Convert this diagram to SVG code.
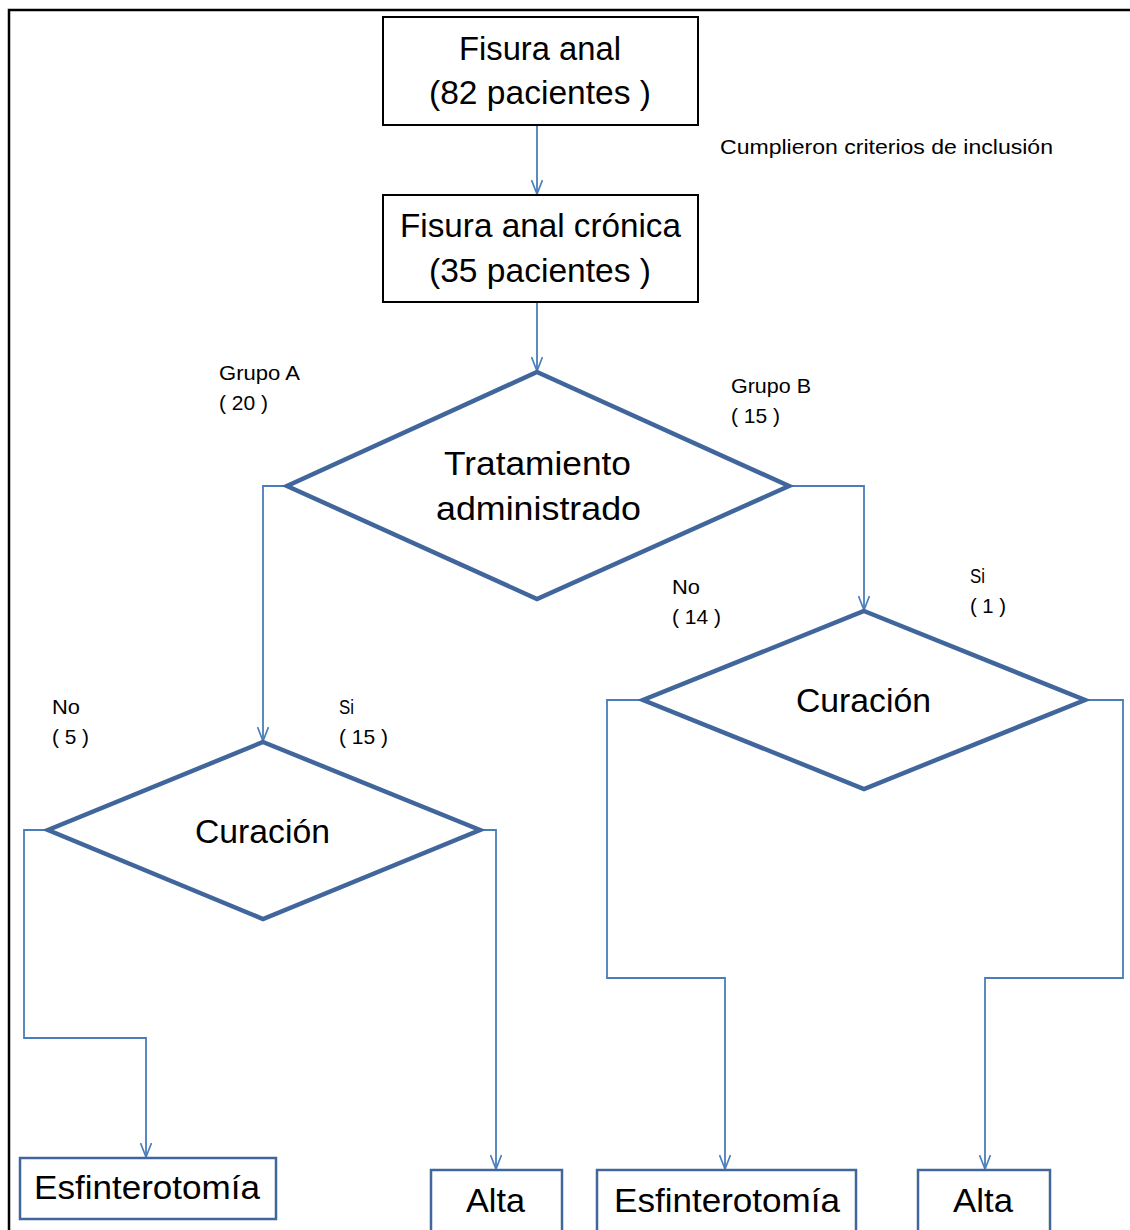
<svg xmlns="http://www.w3.org/2000/svg" width="1130" height="1230" viewBox="0 0 1130 1230">
<style>
.frame{fill:none;stroke:#000;stroke-width:2.5}
.box{fill:#fff;stroke:#000;stroke-width:2}
.bbox{fill:#fff;stroke:#41669b;stroke-width:2.5}
.dia{fill:#fff;stroke:#41669b;stroke-width:4.5;stroke-linejoin:miter}
.con{fill:none;stroke:#4a7ebb;stroke-width:1.8}
.big{font-family:"Liberation Sans",Arial,sans-serif;font-size:33px;fill:#000;text-anchor:middle}
.sm{font-family:"Liberation Sans",Arial,sans-serif;font-size:21px;fill:#000}
</style>
<defs>
<marker id="arr" viewBox="0 0 16 12" refX="15" refY="6" markerWidth="16" markerHeight="12" markerUnits="userSpaceOnUse" orient="auto">
<path d="M1,0.5 L15,6 L1,11.5" fill="none" stroke="#4a7ebb" stroke-width="1.7"/>
</marker>
</defs>
<rect width="1130" height="1230" fill="#fff"/>
<path class="frame" d="M9,1230 L9,10 L1130,10"/>

<g id="connectors">
<path class="con" d="M537,125 L537,194" marker-end="url(#arr)"/>
<path class="con" d="M537,302 L537,371" marker-end="url(#arr)"/>
<path class="con" d="M287,486 L263,486 L263,741" marker-end="url(#arr)"/>
<path class="con" d="M789,486 L864,486 L864,610" marker-end="url(#arr)"/>
<path class="con" d="M48,830 L24,830 L24,1038 L146,1038 L146,1157" marker-end="url(#arr)"/>
<path class="con" d="M480,830 L496,830 L496,1169" marker-end="url(#arr)"/>
<path class="con" d="M643,700 L607,700 L607,978 L725,978 L725,1169" marker-end="url(#arr)"/>
<path class="con" d="M1085,700 L1123,700 L1123,978 L985,978 L985,1169" marker-end="url(#arr)"/>
</g>

<g id="n_fisura">
<rect class="box" x="383" y="17" width="315" height="108"/>
<text class="big" x="540" y="60" textLength="162" lengthAdjust="spacingAndGlyphs">Fisura anal</text>
<text class="big" x="540" y="104" textLength="222" lengthAdjust="spacingAndGlyphs">(82 pacientes )</text>
</g>
<g id="n_cronica">
<rect class="box" x="383" y="195" width="315" height="107"/>
<text class="big" x="540.5" y="237" textLength="281" lengthAdjust="spacingAndGlyphs">Fisura anal crónica</text>
<text class="big" x="540" y="282" textLength="222" lengthAdjust="spacingAndGlyphs">(35 pacientes )</text>
</g>
<g id="n_tratamiento">
<polygon class="dia" points="537,372 789,486 537,599 287,486"/>
<text class="big" x="537.5" y="475" textLength="187" lengthAdjust="spacingAndGlyphs">Tratamiento</text>
<text class="big" x="538.5" y="520" textLength="205" lengthAdjust="spacingAndGlyphs">administrado</text>
</g>
<g id="n_curacion_a">
<polygon class="dia" points="263,742 480,830 263,919 48,830"/>
<text class="big" x="262.5" y="843" textLength="135" lengthAdjust="spacingAndGlyphs">Curación</text>
</g>
<g id="n_curacion_b">
<polygon class="dia" points="864,611 1085,700 864,789 643,700"/>
<text class="big" x="863.5" y="712" textLength="135" lengthAdjust="spacingAndGlyphs">Curación</text>
</g>
<g id="n_esf_a">
<rect class="bbox" x="20" y="1158" width="256" height="61"/>
<text class="big" x="147" y="1199" textLength="226" lengthAdjust="spacingAndGlyphs">Esfinterotomía</text>
</g>
<g id="n_alta_a">
<rect class="bbox" x="431" y="1170" width="131" height="75"/>
<text class="big" x="495.5" y="1212" textLength="59" lengthAdjust="spacingAndGlyphs">Alta</text>
</g>
<g id="n_esf_b">
<rect class="bbox" x="597" y="1170" width="259" height="75"/>
<text class="big" x="727" y="1212" textLength="226" lengthAdjust="spacingAndGlyphs">Esfinterotomía</text>
</g>
<g id="n_alta_b">
<rect class="bbox" x="918" y="1170" width="132" height="75"/>
<text class="big" x="983" y="1212" textLength="60" lengthAdjust="spacingAndGlyphs">Alta</text>
</g>

<g id="labels">
<text class="sm" x="720" y="154" textLength="333" lengthAdjust="spacingAndGlyphs">Cumplieron criterios de inclusión</text>
<text class="sm" x="219" y="380" textLength="81" lengthAdjust="spacingAndGlyphs">Grupo A</text>
<text class="sm" x="219" y="410" textLength="49" lengthAdjust="spacingAndGlyphs">( 20 )</text>
<text class="sm" x="731" y="393" textLength="80" lengthAdjust="spacingAndGlyphs">Grupo B</text>
<text class="sm" x="731" y="423" textLength="49" lengthAdjust="spacingAndGlyphs">( 15 )</text>
<text class="sm" x="672" y="594" textLength="28" lengthAdjust="spacingAndGlyphs">No</text>
<text class="sm" x="672" y="624" textLength="49" lengthAdjust="spacingAndGlyphs">( 14 )</text>
<text class="sm" x="970" y="583" textLength="15" lengthAdjust="spacingAndGlyphs">Si</text>
<text class="sm" x="970" y="613" textLength="36" lengthAdjust="spacingAndGlyphs">( 1 )</text>
<text class="sm" x="52" y="714" textLength="28" lengthAdjust="spacingAndGlyphs">No</text>
<text class="sm" x="52" y="744" textLength="37" lengthAdjust="spacingAndGlyphs">( 5 )</text>
<text class="sm" x="339" y="714" textLength="15" lengthAdjust="spacingAndGlyphs">Si</text>
<text class="sm" x="339" y="744" textLength="49" lengthAdjust="spacingAndGlyphs">( 15 )</text>
</g>
</svg>
